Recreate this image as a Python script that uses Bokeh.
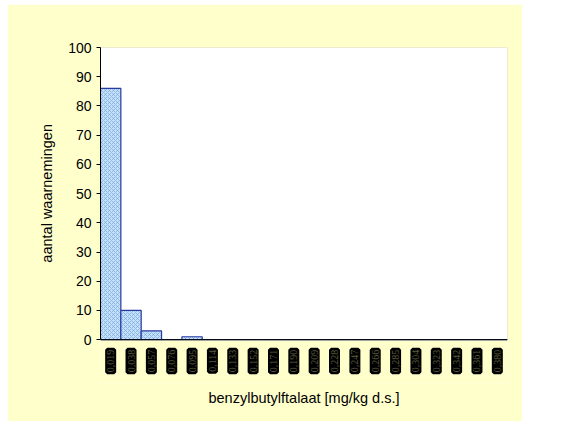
from bokeh.plotting import figure
from bokeh.models import FactorRange, Range1d, LabelSet, ColumnDataSource, BoxAnnotation, Span
from bokeh.embed import file_html
from bokeh.resources import INLINE

categories = ["0,019", "0,038", "0,057", "0,076", "0,095", "0,114", "0,133", "0,152", "0,171", "0,190",
              "0,209", "0,228", "0,247", "0,266", "0,285", "0,304", "0,323", "0,342", "0,361", "0,380"]
counts = [86, 10, 3, 0, 1, 0, 0, 0, 0, 0, 0, 0, 0, 0, 0, 0, 0, 0, 0, 0]
y_ticks = list(range(0, 101, 10))
y_max = 100
label_room = -15  # extra room below zero to hold the boxed category labels

p = figure(width=515, height=417, x_range=FactorRange(*categories), y_range=Range1d(label_room, y_max),
           output_backend="svg", toolbar_location=None, margin=(4, 0, 0, 7),
           min_border_left=93, min_border_right=15, min_border_top=43, min_border_bottom=38)
p.background_fill_color = "#FFFFCC"
p.border_fill_color = "#FFFFCC"
p.outline_line_color = None
p.grid.visible = False

# white plotting area with grey frame (0..100)
p.add_layout(BoxAnnotation(bottom=0, top=y_max, fill_color="white", fill_alpha=1,
                           line_color="#808080", line_width=1, level="underlay"))

p.vbar(x=categories, top=counts, width=1.0, fill_color="#C4E2FA", line_color="#2B3A9E", line_width=1.2,
       hatch_pattern="diagonal_cross", hatch_color="#6E9BE0", hatch_scale=4, hatch_weight=1,
       hatch_alpha=0.6)

p.add_layout(Span(location=0, dimension="width", line_color="black", line_width=1))

src = ColumnDataSource(dict(x=categories, y=[0] * len(categories), t=categories))
labels = LabelSet(x="x", y="y", text="t", source=src, angle=1.5708, y_offset=-10,
                  text_align="right", text_baseline="middle", text_font="Liberation Sans",
                  text_font_size="10px", text_color="#5A5A3C", background_fill_color="black",
                  border_line_color="black", border_line_width=4)
p.add_layout(labels)

p.yaxis.ticker = y_ticks
p.yaxis.bounds = (0, y_max)
# leading no-break spaces keep the label centred on the 0..100 part of the axis
p.yaxis.axis_label = "\u00a0" * 11 + "aantal waarnemingen"
p.xaxis.axis_label = "benzylbutylftalaat [mg/kg d.s.]"
for ax in (p.xaxis, p.yaxis):
    ax.axis_line_color = "black"
    ax.major_label_text_font = "Liberation Sans"
    ax.axis_label_text_font = "Liberation Sans"
    ax.axis_label_text_font_style = "normal"
    ax.axis_label_text_font_size = "14.5px"
    ax.axis_label_text_color = "black"
    ax.minor_tick_line_color = None
p.yaxis.major_label_text_font_size = "14px"
p.yaxis.major_label_text_color = "black"
p.yaxis.major_tick_in = 0
p.yaxis.major_tick_out = 4
p.yaxis.axis_label_standoff = 10
p.xaxis.axis_line_color = None
p.xaxis.major_tick_line_color = None
p.xaxis.major_label_text_font_size = "0px"
p.xaxis.major_label_text_color = None
p.xaxis.major_label_standoff = 0
p.xaxis.axis_label_standoff = 0

open("out.html", "w").write(file_html(p, INLINE))
